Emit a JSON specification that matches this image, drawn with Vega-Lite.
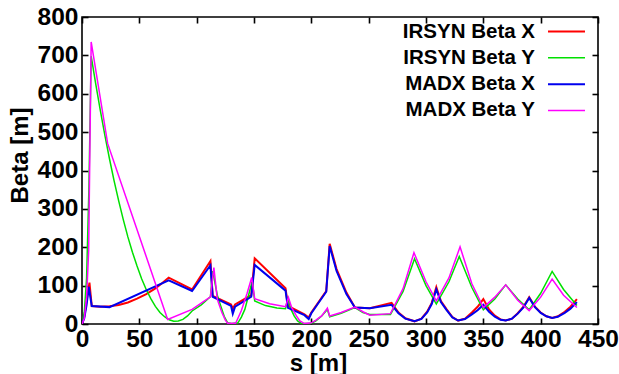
{
 "$schema": "https://vega.github.io/schema/vega-lite/v6.json",
 "width": 516, "height": 307,
 "autosize": {"type": "none"},
 "padding": {"left": 82, "top": 17, "right": 21, "bottom": 50},
 "background": "white",
 "config": {
  "view": {"stroke": "black", "strokeWidth": 1.6},
  "axis": {"grid": false, "domain": false, "tickColor": "black", "tickWidth": 1.6, "tickSize": -6,
   "labelFont": "Liberation Sans", "labelFontWeight": "bold", "labelFontSize": 24.5, "labelColor": "black",
   "titleFont": "Liberation Sans", "titleFontWeight": "bold", "titleFontSize": 24, "titleColor": "black", "labelFlush": false}
 },
 "data": {"values": [
  {"series":"IRSYN Beta X","s":0,"beta":0},{"series":"IRSYN Beta X","s":2,"beta":20},{"series":"IRSYN Beta X","s":4,"beta":60},{"series":"IRSYN Beta X","s":6.5,"beta":108},{"series":"IRSYN Beta X","s":8.5,"beta":47},{"series":"IRSYN Beta X","s":16,"beta":45},{"series":"IRSYN Beta X","s":24,"beta":46},{"series":"IRSYN Beta X","s":32,"beta":49.5},{"series":"IRSYN Beta X","s":40,"beta":56},{"series":"IRSYN Beta X","s":48,"beta":66},{"series":"IRSYN Beta X","s":56,"beta":78},{"series":"IRSYN Beta X","s":64,"beta":93},{"series":"IRSYN Beta X","s":70,"beta":107},{"series":"IRSYN Beta X","s":75.6,"beta":121},{"series":"IRSYN Beta X","s":96,"beta":90},{"series":"IRSYN Beta X","s":112,"beta":164},{"series":"IRSYN Beta X","s":114,"beta":73},{"series":"IRSYN Beta X","s":130,"beta":51},{"series":"IRSYN Beta X","s":131.5,"beta":40},{"series":"IRSYN Beta X","s":133.5,"beta":51},{"series":"IRSYN Beta X","s":147.6,"beta":75},{"series":"IRSYN Beta X","s":150.6,"beta":171},{"series":"IRSYN Beta X","s":177.5,"beta":93},{"series":"IRSYN Beta X","s":179.6,"beta":47},{"series":"IRSYN Beta X","s":194,"beta":25},{"series":"IRSYN Beta X","s":197.7,"beta":17},{"series":"IRSYN Beta X","s":200,"beta":30},{"series":"IRSYN Beta X","s":213,"beta":86},{"series":"IRSYN Beta X","s":216,"beta":209},{"series":"IRSYN Beta X","s":222,"beta":143},{"series":"IRSYN Beta X","s":230.6,"beta":82},{"series":"IRSYN Beta X","s":238,"beta":43},{"series":"IRSYN Beta X","s":251,"beta":41},{"series":"IRSYN Beta X","s":270,"beta":55},{"series":"IRSYN Beta X","s":276,"beta":30},{"series":"IRSYN Beta X","s":282,"beta":15},{"series":"IRSYN Beta X","s":290,"beta":7},{"series":"IRSYN Beta X","s":296,"beta":14},{"series":"IRSYN Beta X","s":301,"beta":32},{"series":"IRSYN Beta X","s":305,"beta":55},{"series":"IRSYN Beta X","s":309,"beta":96},{"series":"IRSYN Beta X","s":313,"beta":60},{"series":"IRSYN Beta X","s":318,"beta":38},{"series":"IRSYN Beta X","s":323,"beta":18},{"series":"IRSYN Beta X","s":328,"beta":9},{"series":"IRSYN Beta X","s":334,"beta":14},{"series":"IRSYN Beta X","s":340,"beta":30},{"series":"IRSYN Beta X","s":345,"beta":45},{"series":"IRSYN Beta X","s":350,"beta":65},{"series":"IRSYN Beta X","s":355,"beta":38},{"series":"IRSYN Beta X","s":360,"beta":22},{"series":"IRSYN Beta X","s":365,"beta":12},{"series":"IRSYN Beta X","s":369.5,"beta":9},{"series":"IRSYN Beta X","s":375,"beta":14},{"series":"IRSYN Beta X","s":380,"beta":28},{"series":"IRSYN Beta X","s":385,"beta":45},{"series":"IRSYN Beta X","s":390,"beta":70},{"series":"IRSYN Beta X","s":395,"beta":45},{"series":"IRSYN Beta X","s":400,"beta":30},{"series":"IRSYN Beta X","s":405,"beta":20},{"series":"IRSYN Beta X","s":410,"beta":16},{"series":"IRSYN Beta X","s":415,"beta":20},{"series":"IRSYN Beta X","s":421,"beta":32},{"series":"IRSYN Beta X","s":426,"beta":45},{"series":"IRSYN Beta X","s":431.6,"beta":65},

  {"series":"IRSYN Beta Y","s":0,"beta":0},{"series":"IRSYN Beta Y","s":2,"beta":30},{"series":"IRSYN Beta Y","s":4,"beta":120},{"series":"IRSYN Beta Y","s":6,"beta":350},{"series":"IRSYN Beta Y","s":8,"beta":698},{"series":"IRSYN Beta Y","s":12,"beta":625},{"series":"IRSYN Beta Y","s":16,"beta":556},{"series":"IRSYN Beta Y","s":20,"beta":491},{"series":"IRSYN Beta Y","s":24,"beta":430},{"series":"IRSYN Beta Y","s":28,"beta":373},{"series":"IRSYN Beta Y","s":32,"beta":321},{"series":"IRSYN Beta Y","s":36,"beta":272},{"series":"IRSYN Beta Y","s":40,"beta":227},{"series":"IRSYN Beta Y","s":44,"beta":187},{"series":"IRSYN Beta Y","s":48,"beta":151},{"series":"IRSYN Beta Y","s":52,"beta":118},{"series":"IRSYN Beta Y","s":56,"beta":90},{"series":"IRSYN Beta Y","s":60,"beta":66},{"series":"IRSYN Beta Y","s":64,"beta":46},{"series":"IRSYN Beta Y","s":68,"beta":30},{"series":"IRSYN Beta Y","s":72,"beta":19},{"series":"IRSYN Beta Y","s":76,"beta":11},{"series":"IRSYN Beta Y","s":80,"beta":7},{"series":"IRSYN Beta Y","s":84,"beta":8},{"series":"IRSYN Beta Y","s":88,"beta":12},{"series":"IRSYN Beta Y","s":92,"beta":21},{"series":"IRSYN Beta Y","s":96,"beta":34},{"series":"IRSYN Beta Y","s":104,"beta":50},{"series":"IRSYN Beta Y","s":112,"beta":71},{"series":"IRSYN Beta Y","s":114,"beta":138},{"series":"IRSYN Beta Y","s":118,"beta":75},{"series":"IRSYN Beta Y","s":121,"beta":47},{"series":"IRSYN Beta Y","s":124,"beta":20},{"series":"IRSYN Beta Y","s":127,"beta":3},{"series":"IRSYN Beta Y","s":131,"beta":1},{"series":"IRSYN Beta Y","s":136,"beta":3},{"series":"IRSYN Beta Y","s":139,"beta":18},{"series":"IRSYN Beta Y","s":142,"beta":38},{"series":"IRSYN Beta Y","s":148.5,"beta":112},{"series":"IRSYN Beta Y","s":150.6,"beta":60},{"series":"IRSYN Beta Y","s":160,"beta":48},{"series":"IRSYN Beta Y","s":170,"beta":42},{"series":"IRSYN Beta Y","s":177.5,"beta":40},{"series":"IRSYN Beta Y","s":179.6,"beta":69},{"series":"IRSYN Beta Y","s":182,"beta":40},{"series":"IRSYN Beta Y","s":185,"beta":21},{"series":"IRSYN Beta Y","s":188,"beta":8},{"series":"IRSYN Beta Y","s":191,"beta":2},{"series":"IRSYN Beta Y","s":196,"beta":1},{"series":"IRSYN Beta Y","s":200,"beta":2},{"series":"IRSYN Beta Y","s":204,"beta":8},{"series":"IRSYN Beta Y","s":209,"beta":21},{"series":"IRSYN Beta Y","s":214,"beta":38},{"series":"IRSYN Beta Y","s":216,"beta":19},{"series":"IRSYN Beta Y","s":226,"beta":28},{"series":"IRSYN Beta Y","s":238,"beta":43},{"series":"IRSYN Beta Y","s":245,"beta":30},{"series":"IRSYN Beta Y","s":251,"beta":25},{"series":"IRSYN Beta Y","s":269,"beta":25},{"series":"IRSYN Beta Y","s":280,"beta":85},{"series":"IRSYN Beta Y","s":290,"beta":170},{"series":"IRSYN Beta Y","s":300,"beta":100},{"series":"IRSYN Beta Y","s":309,"beta":52},{"series":"IRSYN Beta Y","s":320,"beta":110},{"series":"IRSYN Beta Y","s":329,"beta":176},{"series":"IRSYN Beta Y","s":340,"beta":95},{"series":"IRSYN Beta Y","s":350,"beta":37},{"series":"IRSYN Beta Y","s":360,"beta":65},{"series":"IRSYN Beta Y","s":369.5,"beta":102},{"series":"IRSYN Beta Y","s":380,"beta":65},{"series":"IRSYN Beta Y","s":390,"beta":37},{"series":"IRSYN Beta Y","s":400,"beta":80},{"series":"IRSYN Beta Y","s":410,"beta":137},{"series":"IRSYN Beta Y","s":420,"beta":90},{"series":"IRSYN Beta Y","s":431.6,"beta":48},

  {"series":"MADX Beta X","s":0,"beta":0},{"series":"MADX Beta X","s":2,"beta":15},{"series":"MADX Beta X","s":4,"beta":50},{"series":"MADX Beta X","s":5.9,"beta":97},{"series":"MADX Beta X","s":8.5,"beta":47},{"series":"MADX Beta X","s":24,"beta":44},{"series":"MADX Beta X","s":75.6,"beta":114},{"series":"MADX Beta X","s":96,"beta":86},{"series":"MADX Beta X","s":112,"beta":153},{"series":"MADX Beta X","s":114,"beta":71},{"series":"MADX Beta X","s":130,"beta":47},{"series":"MADX Beta X","s":131.5,"beta":27},{"series":"MADX Beta X","s":133.5,"beta":45},{"series":"MADX Beta X","s":147.6,"beta":71},{"series":"MADX Beta X","s":150.6,"beta":154},{"series":"MADX Beta X","s":177.5,"beta":87},{"series":"MADX Beta X","s":179.6,"beta":42},{"series":"MADX Beta X","s":194,"beta":23},{"series":"MADX Beta X","s":197.7,"beta":13},{"series":"MADX Beta X","s":200,"beta":28},{"series":"MADX Beta X","s":213,"beta":84},{"series":"MADX Beta X","s":216,"beta":203},{"series":"MADX Beta X","s":222,"beta":138},{"series":"MADX Beta X","s":230.6,"beta":78},{"series":"MADX Beta X","s":238,"beta":43},{"series":"MADX Beta X","s":251,"beta":41},{"series":"MADX Beta X","s":270,"beta":50},{"series":"MADX Beta X","s":276,"beta":28},{"series":"MADX Beta X","s":282,"beta":14},{"series":"MADX Beta X","s":290,"beta":7},{"series":"MADX Beta X","s":296,"beta":13},{"series":"MADX Beta X","s":301,"beta":30},{"series":"MADX Beta X","s":305,"beta":52},{"series":"MADX Beta X","s":309,"beta":90},{"series":"MADX Beta X","s":313,"beta":57},{"series":"MADX Beta X","s":318,"beta":36},{"series":"MADX Beta X","s":323,"beta":17},{"series":"MADX Beta X","s":328,"beta":9},{"series":"MADX Beta X","s":334,"beta":13},{"series":"MADX Beta X","s":340,"beta":25},{"series":"MADX Beta X","s":345,"beta":36},{"series":"MADX Beta X","s":350,"beta":50},{"series":"MADX Beta X","s":355,"beta":32},{"series":"MADX Beta X","s":360,"beta":19},{"series":"MADX Beta X","s":365,"beta":11},{"series":"MADX Beta X","s":369.5,"beta":9},{"series":"MADX Beta X","s":375,"beta":14},{"series":"MADX Beta X","s":380,"beta":27},{"series":"MADX Beta X","s":385,"beta":43},{"series":"MADX Beta X","s":390,"beta":68},{"series":"MADX Beta X","s":395,"beta":44},{"series":"MADX Beta X","s":400,"beta":29},{"series":"MADX Beta X","s":405,"beta":20},{"series":"MADX Beta X","s":410,"beta":16},{"series":"MADX Beta X","s":415,"beta":19},{"series":"MADX Beta X","s":421,"beta":29},{"series":"MADX Beta X","s":426,"beta":40},{"series":"MADX Beta X","s":431.6,"beta":57},

  {"series":"MADX Beta Y","s":0,"beta":0},{"series":"MADX Beta Y","s":2,"beta":15},{"series":"MADX Beta Y","s":4,"beta":70},{"series":"MADX Beta Y","s":5.8,"beta":190},{"series":"MADX Beta Y","s":8,"beta":735},{"series":"MADX Beta Y","s":22.4,"beta":470},{"series":"MADX Beta Y","s":74.7,"beta":12},{"series":"MADX Beta Y","s":96,"beta":38},{"series":"MADX Beta Y","s":112,"beta":71},{"series":"MADX Beta Y","s":115,"beta":147},{"series":"MADX Beta Y","s":118,"beta":64},{"series":"MADX Beta Y","s":122,"beta":30},{"series":"MADX Beta Y","s":125,"beta":10},{"series":"MADX Beta Y","s":127,"beta":2},{"series":"MADX Beta Y","s":134,"beta":2},{"series":"MADX Beta Y","s":139,"beta":35},{"series":"MADX Beta Y","s":144,"beta":80},{"series":"MADX Beta Y","s":148,"beta":121},{"series":"MADX Beta Y","s":150.6,"beta":66},{"series":"MADX Beta Y","s":163.6,"beta":53},{"series":"MADX Beta Y","s":177.5,"beta":45},{"series":"MADX Beta Y","s":180,"beta":69},{"series":"MADX Beta Y","s":183,"beta":42},{"series":"MADX Beta Y","s":187,"beta":21},{"series":"MADX Beta Y","s":190,"beta":8},{"series":"MADX Beta Y","s":194,"beta":1},{"series":"MADX Beta Y","s":200,"beta":3},{"series":"MADX Beta Y","s":204,"beta":10},{"series":"MADX Beta Y","s":209,"beta":21},{"series":"MADX Beta Y","s":214,"beta":41},{"series":"MADX Beta Y","s":216,"beta":21},{"series":"MADX Beta Y","s":226,"beta":30},{"series":"MADX Beta Y","s":238,"beta":44},{"series":"MADX Beta Y","s":245,"beta":32},{"series":"MADX Beta Y","s":251,"beta":23},{"series":"MADX Beta Y","s":269,"beta":27},{"series":"MADX Beta Y","s":280,"beta":92},{"series":"MADX Beta Y","s":289.5,"beta":186},{"series":"MADX Beta Y","s":300,"beta":110},{"series":"MADX Beta Y","s":309,"beta":60},{"series":"MADX Beta Y","s":320,"beta":120},{"series":"MADX Beta Y","s":329.7,"beta":201},{"series":"MADX Beta Y","s":340,"beta":105},{"series":"MADX Beta Y","s":350,"beta":43},{"series":"MADX Beta Y","s":360,"beta":70},{"series":"MADX Beta Y","s":369.5,"beta":102},{"series":"MADX Beta Y","s":380,"beta":62},{"series":"MADX Beta Y","s":390,"beta":35},{"series":"MADX Beta Y","s":400,"beta":70},{"series":"MADX Beta Y","s":410,"beta":117},{"series":"MADX Beta Y","s":420,"beta":75},{"series":"MADX Beta Y","s":431.6,"beta":43}
 ]},
 "layer": [
  {
   "mark": {"type": "line", "clip": true},
   "encoding": {
    "x": {"field": "s", "type": "quantitative", "scale": {"domain": [0, 450], "nice": false},
     "axis": {"orient": "bottom", "values": [0,50,100,150,200,250,300,350,400,450], "title": "s [m]", "labelPadding": 9, "titleX": 236, "titleY": 39, "titleBaseline": "middle", "titleAlign": "center", "titleAnchor": null}},
    "y": {"field": "beta", "type": "quantitative", "scale": {"domain": [0, 800], "nice": false},
     "axis": {"orient": "left", "values": [0,100,200,300,400,500,600,700,800], "title": "Beta [m]", "labelPadding": 10, "titleX": -62, "titleY": 138, "titleAngle": 270, "titleBaseline": "middle", "titleAlign": "center", "titleAnchor": null}},
    "color": {"field": "series", "type": "nominal",
     "scale": {"domain": ["IRSYN Beta X","IRSYN Beta Y","MADX Beta X","MADX Beta Y"], "range": ["#ff0000","#00e000","#0000ee","#ff00ff"]},
     "legend": {"title": null, "orient": "none", "legendX": 474, "legendY": 4, "symbolType": "M-2,0H2", "symbolSize": 342, "symbolStrokeWidth": 2,
      "labelAlign": "right", "labelOffset": -42, "labelFont": "Liberation Sans", "labelFontWeight": "bold", "labelFontSize": 20.5, "labelColor": "black", "rowPadding": 5.4, "padding": 0}},
    "strokeWidth": {"field": "series", "type": "nominal", "scale": {"type": "ordinal", "domain": ["IRSYN Beta X","IRSYN Beta Y","MADX Beta X","MADX Beta Y"], "range": [2, 1.5, 2, 1.5]}, "legend": null}
   }
  },
  {
   "mark": {"type": "point", "opacity": 0},
   "encoding": {
    "x": {"field": "s", "type": "quantitative", "axis": {"orient": "top", "values": [0,50,100,150,200,250,300,350,400,450], "labels": false, "title": null}},
    "y": {"field": "beta", "type": "quantitative", "axis": {"orient": "right", "values": [0,100,200,300,400,500,600,700,800], "labels": false, "title": null}}
   }
  }
 ],
 "resolve": {"axis": {"x": "independent", "y": "independent"}}
}
